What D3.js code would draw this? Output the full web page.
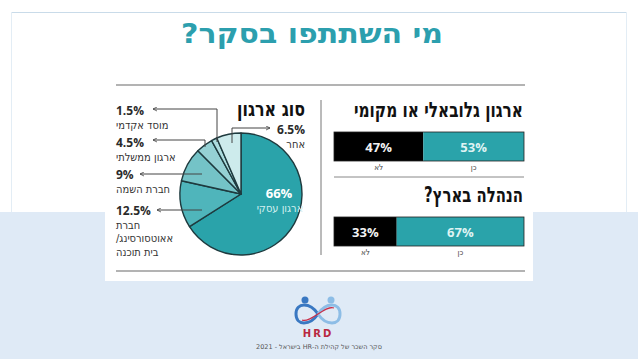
<!DOCTYPE html>
<html lang="he">
<head>
<meta charset="utf-8">
<script src="https://cdn.jsdelivr.net/npm/d3@7"></script>
<style>
  body { margin: 0; background: #fff; }
  svg { display: block; }
</style>
</head>
<body>
<svg id="chart" width="638" height="359"></svg>
<script>
// survey data
var pieLabels = ["ארגון עסקי", "חברת|אאוטסורסינג/|בית תוכנה", "חברת השמה", "ארגון ממשלתי", "מוסד אקדמי", "אחר"];
var pieValues = [66, 12.5, 9, 4.5, 1.5, 6.5];
var pieColors = ["#2aa3aa", "#4fb5bb", "#74c3c7", "#95d1d4", "#acdcde", "#cdebec"];

var barQuestions = ["ארגון גלובאלי או מקומי", "הנהלה בארץ?"];
var noValues = [47, 33];
var yesValues = [53, 67];
var answerLabels = ["לא", "כן"];

var svg = d3.select("#chart");
var condensed = "'DejaVu Sans Condensed', 'DejaVu Sans', sans-serif";
var pctFont = "'Open Sans', sans-serif";

// page background
svg.append("rect").attr("x", 0).attr("y", 212).attr("width", 638).attr("height", 147).attr("fill", "#dfeaf6");
svg.append("line").attr("x1", 11).attr("x2", 627).attr("y1", 12.5).attr("y2", 12.5)
  .attr("stroke", "#c9dbe9").attr("stroke-width", 1);
svg.append("line").attr("x1", 11.5).attr("x2", 11.5).attr("y1", 12).attr("y2", 212).attr("stroke", "#e3edf5");
svg.append("line").attr("x1", 626.5).attr("x2", 626.5).attr("y1", 12).attr("y2", 212).attr("stroke", "#e3edf5");

svg.append("text")
  .attr("x", 312).attr("y", 43)
  .attr("text-anchor", "middle")
  .attr("direction", "rtl")
  .attr("font-family", "'DejaVu Sans', sans-serif")
  .attr("font-weight", "bold")
  .attr("font-size", 27)
  .attr("fill", "#2c9fae")
  .attr("textLength", 262)
  .attr("lengthAdjust", "spacingAndGlyphs")
  .text("מי השתתפו בסקר?");

// infographic card
svg.append("rect").attr("x", 105).attr("y", 60).attr("width", 428).attr("height", 221).attr("fill", "#fff");
svg.append("line").attr("x1", 116).attr("x2", 525).attr("y1", 85).attr("y2", 85).attr("stroke", "#9a9a9a").attr("stroke-width", 1.5);
svg.append("line").attr("x1", 116).attr("x2", 525).attr("y1", 271).attr("y2", 271).attr("stroke", "#9a9a9a").attr("stroke-width", 1.5);
svg.append("line").attr("x1", 321).attr("x2", 321).attr("y1", 100).attr("y2", 255).attr("stroke", "#777").attr("stroke-width", 1);

var defs = svg.append("defs");
defs.append("marker")
  .attr("id", "arrow")
  .attr("viewBox", "0 0 10 10")
  .attr("refX", 9).attr("refY", 5)
  .attr("markerWidth", 5).attr("markerHeight", 5)
  .attr("orient", "auto-start-reverse")
  .append("path").attr("d", "M1,1 L9,5 L1,9").attr("fill", "none").attr("stroke", "#444").attr("stroke-width", 1.6);

// ---- pie ----
var cx = 241, cy = 194, r = 61;
var pie = d3.pie().sort(null).value(function(d) { return d; });
var arc = d3.arc().innerRadius(0).outerRadius(r);
var arcs = pie(pieValues);

var g = svg.append("g").attr("transform", "translate(" + cx + "," + cy + ")");
g.selectAll("path.slice")
  .data(arcs)
  .enter().append("path")
  .attr("class", "slice")
  .attr("d", arc)
  .attr("fill", function(d, i) { return pieColors[i]; })
  .attr("stroke", "#1e3a3e")
  .attr("stroke-width", 1.4)
  .attr("stroke-linejoin", "round");

svg.append("text")
  .attr("x", 305).attr("y", 116)
  .attr("text-anchor", "start").attr("direction", "rtl")
  .attr("font-family", condensed).attr("font-weight", "bold").attr("font-size", 20)
  .attr("fill", "#111")
  .attr("textLength", 68).attr("lengthAdjust", "spacingAndGlyphs")
  .text("סוג ארגון");

// big slice label
svg.append("text").attr("x", 279).attr("y", 198).attr("text-anchor", "middle")
  .attr("font-family", pctFont).attr("font-weight", "bold").attr("font-size", 13)
  .attr("fill", "#fff").text(pieValues[0] + "%");
svg.append("text").attr("x", 280).attr("y", 212).attr("text-anchor", "middle").attr("direction", "rtl")
  .attr("font-family", condensed).attr("font-size", 11).attr("fill", "#d4f0f0")
  .text(pieLabels[0]);

// callout layout: label y, leader path
var callouts = [
  null,
  { side: "left", y: 210, lines: [[157, 210], [202, 210]] },
  { side: "left", y: 174, lines: [[140, 174], [202, 174]] },
  { side: "left", y: 142, lines: [[153, 140], [205, 140], [205, 147]] },
  { side: "left", y: 110, lines: [[153, 109], [217, 109], [217, 142]] },
  { side: "right", y: 129, lines: [[270, 128], [232, 128], [232, 143]] }
];

callouts.forEach(function(c, i) {
  if (!c) return;
  svg.append("path")
    .attr("d", d3.line()(c.lines))
    .attr("fill", "none").attr("stroke", "#444").attr("stroke-width", 1)
    .attr("marker-start", "url(#arrow)");

  var pct = String(pieValues[i]) + "%";
  var parts = pieLabels[i].split("|");
  if (c.side === "left") {
    svg.append("text").attr("x", 116).attr("y", c.y + 4.5)
      .attr("font-family", pctFont).attr("font-weight", "bold").attr("font-size", 12)
      .attr("fill", "#2b2b2b").text(pct);
    parts.forEach(function(p, j) {
      svg.append("text").attr("x", 116).attr("y", c.y + 18.5 + j * 13.5)
        .attr("text-anchor", "end").attr("direction", "rtl")
        .attr("font-family", condensed).attr("font-size", 11).attr("fill", "#333")
        .text(p);
    });
  } else {
    svg.append("text").attr("x", 305).attr("y", c.y + 4.5)
      .attr("text-anchor", "end")
      .attr("font-family", pctFont).attr("font-weight", "bold").attr("font-size", 12)
      .attr("fill", "#2b2b2b").text(pct);
    svg.append("text").attr("x", 305).attr("y", c.y + 18.5)
      .attr("text-anchor", "start").attr("direction", "rtl")
      .attr("font-family", condensed).attr("font-size", 11).attr("fill", "#333")
      .text(parts[0]);
  }
});

// ---- stacked bars ----
var x = d3.scaleLinear().domain([0, 100]).range([334, 524]);
var titleY = [117, 202];
var barY = [132, 217];
var barH = 29;

barQuestions.forEach(function(q, i) {
  svg.append("text")
    .attr("x", 523).attr("y", titleY[i])
    .attr("text-anchor", "start").attr("direction", "rtl")
    .attr("font-family", condensed).attr("font-weight", "bold").attr("font-size", 21)
    .attr("fill", "#111")
    .attr("textLength", i === 0 ? 169 : 99).attr("lengthAdjust", "spacingAndGlyphs")
    .text(q);

  var segs = [
    { x0: 0, x1: noValues[i], fill: "#000", txt: "#f2f2f2", label: answerLabels[0] },
    { x0: noValues[i], x1: noValues[i] + yesValues[i], fill: "#2aa3aa", txt: "#dff3f3", label: answerLabels[1] }
  ];
  segs.forEach(function(s) {
    svg.append("rect")
      .attr("x", x(s.x0)).attr("y", barY[i])
      .attr("width", x(s.x1) - x(s.x0)).attr("height", barH)
      .attr("fill", s.fill);
    var mid = (x(s.x0) + x(s.x1)) / 2;
    svg.append("text").attr("x", mid).attr("y", barY[i] + barH / 2 + 5)
      .attr("text-anchor", "middle")
      .attr("font-family", pctFont).attr("font-weight", "bold").attr("font-size", 13)
      .attr("fill", s.txt).text((s.x1 - s.x0) + "%");
    svg.append("text").attr("x", mid).attr("y", barY[i] + barH + 9)
      .attr("text-anchor", "middle").attr("direction", "rtl")
      .attr("font-family", condensed).attr("font-size", 8).attr("fill", "#444")
      .text(s.label);
  });
  svg.append("rect").attr("x", x(0)).attr("y", barY[i]).attr("width", x(100) - x(0)).attr("height", barH)
    .attr("fill", "none").attr("stroke", "#222").attr("stroke-width", 0.8);
});
svg.append("line").attr("x1", 334).attr("x2", 524).attr("y1", 177).attr("y2", 177).attr("stroke", "#888").attr("stroke-width", 1);

// ---- logo + footer ----
var logo = svg.append("g").attr("transform", "translate(318,314)");
logo.append("path")
  .attr("d", "M0,0 C-8,-12 -22,-12 -22,0 C-22,12 -8,12 0,0")
  .attr("fill", "none").attr("stroke", "#3a78c2").attr("stroke-width", 3);
logo.append("path")
  .attr("d", "M0,0 C8,-12 22,-12 22,0 C22,12 8,12 0,0")
  .attr("fill", "none").attr("stroke", "#8dbde6").attr("stroke-width", 3);
logo.append("path")
  .attr("d", "M-16,6 C-8,10 8,-10 16,-6")
  .attr("fill", "none").attr("stroke", "#c8304a").attr("stroke-width", 1.2);
logo.append("circle").attr("cx", -13).attr("cy", -14).attr("r", 3.5).attr("fill", "#3a78c2");
logo.append("circle").attr("cx", 13).attr("cy", -14).attr("r", 3.5).attr("fill", "#8dbde6");
logo.append("text").attr("x", 0).attr("y", 23).attr("text-anchor", "middle")
  .attr("font-family", "'DejaVu Sans', sans-serif").attr("font-weight", "bold").attr("font-size", 10)
  .attr("letter-spacing", 2).attr("fill", "#b8283f").text("HRD");

svg.append("text").attr("x", 319).attr("y", 349).attr("text-anchor", "middle").attr("direction", "rtl")
  .attr("font-family", "'DejaVu Sans', sans-serif").attr("font-size", 6.5).attr("fill", "#555")
  .text("סקר השכר של קהילת ה-HR בישראל - 2021");
</script>
</body>
</html>
